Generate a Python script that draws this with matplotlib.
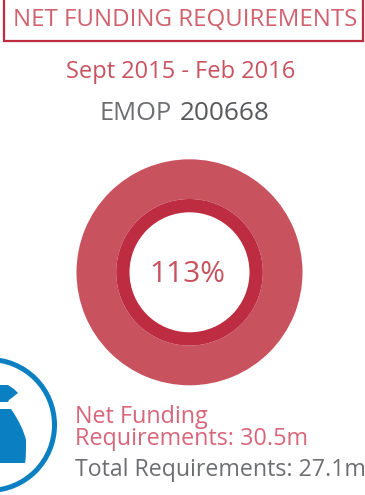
import matplotlib
matplotlib.use("Agg")
import matplotlib.pyplot as plt
from matplotlib.patches import Circle, Rectangle, PathPatch
from matplotlib.path import Path

plt.rcParams['font.family'] = ['Open Sans', 'DejaVu Sans']

title = "NET FUNDING REQUIREMENTS"
period = "Sept 2015 - Feb 2016"
emop_label = "EMOP"
emop_code = "200668"
centre_label = "113%"
net_line1 = "Net Funding"
net_line2 = "Requirements: 30.5m"
total_label = "Total Requirements: 27.1m"
net_value = [30.5]
total_value = [27.1]

W, H = 365, 495
RED = "#c9525f"
DARK = "#bd2c40"
GREY = "#6d6e71"
BLUE = "#0a7fc1"

fig = plt.figure(figsize=(W/100, H/100), dpi=100, facecolor="white")
bg = fig.add_axes([0, 0, 1, 1])
bg.set_xlim(0, W)
bg.set_ylim(H, 0)
bg.axis("off")

# title box
bg.add_patch(Rectangle((3.5, -5), 359.5, 46, fc="none", ec=DARK, lw=1.6))
bg.text(185, 20, title, color="#d0616e", fontsize=17.3, ha="center", va="center")
bg.text(181, 71.5, period, color=RED, fontsize=17, ha="center", va="center")
bg.text(100, 113.5, emop_label, color=GREY, fontsize=18.4, ha="left", va="center")
bg.text(180, 113.5, emop_code, color="#58595b", fontsize=18.8, ha="left", va="center")

# icon
bg.add_patch(Circle((-11, 425), 65.5, fc="white", ec=BLUE, lw=3.6))
M, L, C, Z = Path.MOVETO, Path.LINETO, Path.CURVE4, Path.CLOSEPOLY
tie = Path([(-2, 385), (8, 385), (14, 389), (18, 393), (13, 397), (9, 400), (8, 402), (-2, 402), (-2, 385)],
           [M, L, L, L, L, L, L, L, Z])
bg.add_patch(PathPatch(tie, fc=BLUE, ec="none"))
body = Path([(-2, 409), (11, 409), (20, 422), (24, 432), (26, 440), (26, 450), (26, 459),
             (25, 463), (17, 463), (-2, 463), (-2, 409)],
            [M, L, C, C, C, C, C, C, L, L, Z])
bg.add_patch(PathPatch(body, fc=BLUE, ec="none"))

# doughnut
cx, cy, R = 189.5, 272.3, 113
ax = fig.add_axes([(cx-R)/W, 1-(cy+R)/H, 2*R/W, 2*R/H])
ax.pie(net_value, radius=1.0, colors=[RED], startangle=90,
       wedgeprops=dict(width=1-73.3/113))
ax.pie(total_value, radius=73.3/113, colors=[DARK], startangle=90,
       wedgeprops=dict(width=(73.3-60)/113))
ax.set_xlim(-1, 1)
ax.set_ylim(-1, 1)
ax.set_aspect("equal")
ax.text(-0.02, -0.02, centre_label, color=RED, fontsize=21.5, ha="center", va="center")

# labels
bg.text(75, 417, net_line1, color="#d8667a", fontsize=16.8, ha="left", va="center")
bg.text(75, 439, net_line2, color="#d8667a", fontsize=16.8, ha="left", va="center")
bg.text(75, 470, total_label, color=GREY, fontsize=16.7, ha="left", va="center")

fig.savefig("out.png", dpi=100)
